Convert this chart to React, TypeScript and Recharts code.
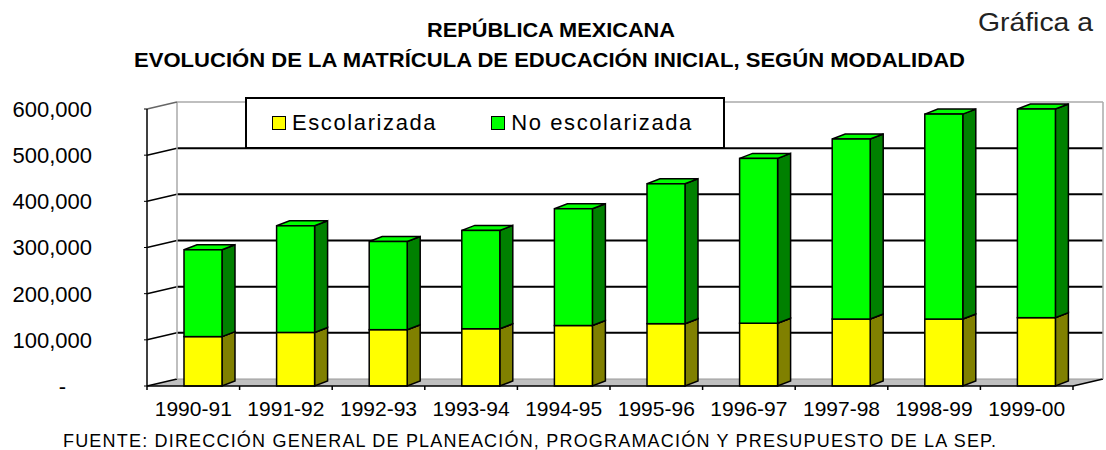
import { Bar, BarChart, CartesianGrid, Customized, Legend, XAxis, YAxis } from "recharts";

const categories = ["1990-91", "1991-92", "1992-93", "1993-94", "1994-95", "1995-96", "1996-97", "1997-98", "1998-99", "1999-00"];
const escolarizada = [107000, 116000, 122000, 124000, 131000, 135000, 136000, 145000, 145000, 148000];
const noEscolarizada = [188000, 231000, 191000, 213000, 253000, 303000, 357000, 390000, 444000, 452000];
const yTicks = [0, 100000, 200000, 300000, 400000, 500000, 600000];

const data = categories.map((c, i) => ({
  year: c,
  esc: escolarizada[i],
  noEsc: noEscolarizada[i],
}));

const W = 1106;
const H = 450;
const MARGIN = { top: 109, right: 33, bottom: 0, left: 0 };
const Y_AXIS_W = 147;
const X_AXIS_H = 64;
const PLOT_TOP = MARGIN.top;
const PLOT_BOTTOM = H - X_AXIS_H;

// depth of the back wall and of the bars
const DX = 30;
const DY = 7;
const BDX = 13;
const BDY = 5;
const BAR_SHIFT = 10;

const FONT = "'Liberation Sans', Arial, sans-serif";

function gridLine(p: any) {
  const { x1, x2, y1: y } = p;
  const isTop = Math.abs(y - PLOT_TOP) < 1;
  const isBottom = Math.abs(y - PLOT_BOTTOM) < 1;
  if (isBottom) {
    return (
      <g key={p.key}>
        <polygon
          points={`${x1},${y} ${x2},${y} ${x2 + DX},${y - DY} ${x1 + DX},${y - DY}`}
          fill="#c0c0c0"
          stroke="none"
        />
        <line x1={x1 + DX} y1={y - DY} x2={x2 + DX} y2={y - DY} stroke="#999" strokeWidth={1} />
        <line x1={x1} y1={y} x2={x1 + DX} y2={y - DY} stroke="#000" strokeWidth={1.5} />
        <line x1={x2} y1={y} x2={x2 + DX} y2={y - DY} stroke="#000" strokeWidth={1.5} />
      </g>
    );
  }
  return (
    <g key={p.key}>
      {isTop && (
        <>
          <line x1={x1 + DX} y1={y - DY} x2={x1 + DX} y2={PLOT_BOTTOM - DY} stroke="#aaa" strokeWidth={1.5} />
          <line x1={x2 + DX} y1={y - DY} x2={x2 + DX} y2={PLOT_BOTTOM - DY} stroke="#aaa" strokeWidth={1.5} />
        </>
      )}
      <line
        x1={x1 + DX}
        y1={y - DY}
        x2={x2 + DX}
        y2={y - DY}
        stroke={isTop ? "#aaa" : "#000"}
        strokeWidth={isTop ? 1.5 : 2}
      />
      <line x1={x1} y1={y} x2={x1 + DX} y2={y - DY} stroke={isTop ? "#666" : "#000"} strokeWidth={1.5} />
    </g>
  );
}

function box3d(fill: string, side: string) {
  return (p: any) => {
    const { y, width: w, height: h } = p;
    if (h == null || h <= 0) return <g />;
    const x = p.x + BAR_SHIFT;
    return (
      <g>
        <polygon
          points={`${x + w},${y} ${x + w + BDX},${y - BDY} ${x + w + BDX},${y + h - BDY} ${x + w},${y + h}`}
          fill={side}
          stroke="#000"
          strokeWidth={1.5}
        />
        <polygon
          points={`${x},${y} ${x + BDX},${y - BDY} ${x + w + BDX},${y - BDY} ${x + w},${y}`}
          fill={fill}
          stroke="#000"
          strokeWidth={1.5}
        />
        <rect x={x} y={y} width={w} height={h} fill={fill} stroke="#000" strokeWidth={1.5} />
      </g>
    );
  };
}

function YTick(p: any) {
  const v = p.payload.value;
  if (v === 0) {
    return (
      <text x={p.x - 26} y={p.y} dy="0.36em" textAnchor="end" fontFamily={FONT} fontSize={22} fill="#000">
        -
      </text>
    );
  }
  return (
    <text x={p.x} y={p.y} dy="0.36em" textAnchor="end" fontFamily={FONT} fontSize={22} fill="#000">
      {v.toLocaleString("en-US")}
    </text>
  );
}

function XTick(p: any) {
  const half = typeof p.payload.offset === "number" && p.payload.offset > 0 ? p.payload.offset : 46.3;
  const last = p.index === categories.length - 1;
  return (
    <g>
      <line x1={p.x - half} y1={PLOT_BOTTOM} x2={p.x - half} y2={PLOT_BOTTOM + 4} stroke="#000" strokeWidth={1.5} />
      {last && (
        <line x1={p.x + half} y1={PLOT_BOTTOM} x2={p.x + half} y2={PLOT_BOTTOM + 4} stroke="#000" strokeWidth={1.5} />
      )}
      <text x={p.x} y={PLOT_BOTTOM + 30} textAnchor="middle" fontFamily={FONT} fontSize={21} fill="#000">
        {p.payload.value}
      </text>
    </g>
  );
}

function Titles() {
  return (
    <g fontFamily={FONT}>
      <text x={427} y={37} fontSize={21} fontWeight="bold" textLength={248} lengthAdjust="spacingAndGlyphs">
        REPÚBLICA MEXICANA
      </text>
      <text x={134} y={67} fontSize={21} fontWeight="bold" textLength={831} lengthAdjust="spacingAndGlyphs">
        EVOLUCIÓN DE LA MATRÍCULA DE EDUCACIÓN INICIAL, SEGÚN MODALIDAD
      </text>
      <text x={978} y={31} fontSize={25} fill="#222" textLength={115} lengthAdjust="spacingAndGlyphs">
        Gráfica a
      </text>
      <text x={63} y={447} fontSize={18} textLength={933} lengthAdjust="spacing">
        FUENTE: DIRECCIÓN GENERAL DE PLANEACIÓN, PROGRAMACIÓN Y PRESUPUESTO DE LA SEP.
      </text>
    </g>
  );
}

function LegendBox() {
  const sq = (c: string) => ({
    display: "inline-block",
    width: 12,
    height: 12,
    background: c,
    border: "1.5px solid #000",
    marginRight: 6,
  });
  return (
    <div
      style={{
        boxSizing: "border-box",
        width: 480,
        height: 52,
        border: "2px solid #000",
        background: "#fff",
        display: "flex",
        alignItems: "center",
        fontFamily: FONT,
        fontSize: 22,
        letterSpacing: 1.6,
        color: "#000",
      }}
    >
      <span style={{ marginLeft: 25, display: "flex", alignItems: "center" }}>
        <span style={sq("#ffff00")} />
        Escolarizada
      </span>
      <span style={{ marginLeft: 54, display: "flex", alignItems: "center" }}>
        <span style={sq("#00ff00")} />
        No escolarizada
      </span>
    </div>
  );
}

export default function App() {
  return (
    <div style={{ position: "fixed", left: 0, top: 0, width: W, height: H, background: "#fff" }}>
      <BarChart width={W} height={H} data={data} margin={MARGIN}>
        <CartesianGrid vertical={false} horizontal={gridLine} />
        <XAxis
          dataKey="year"
          height={X_AXIS_H}
          axisLine={{ stroke: "#000", strokeWidth: 1.5 }}
          tickLine={false}
          tickSize={0}
          tick={<XTick />}
          interval={0}
        />
        <YAxis
          width={Y_AXIS_W}
          domain={[0, 600000]}
          ticks={yTicks}
          axisLine={{ stroke: "#000", strokeWidth: 1.5 }}
          tickLine={{ stroke: "#000" }}
          tickSize={3}
          tickMargin={52}
          tick={<YTick />}
        />
        <Legend
          verticalAlign="middle"
          align="center"
          layout="horizontal"
          content={<LegendBox />}
          wrapperStyle={{ left: 245, top: 97, width: 480, height: 52 }}
        />
        <Bar
          dataKey="esc"
          name="Escolarizada"
          stackId="a"
          fill="#ffff00"
          barSize={38}
          shape={box3d("#ffff00", "#808000")}
          isAnimationActive={false}
        />
        <Bar
          dataKey="noEsc"
          name="No escolarizada"
          stackId="a"
          fill="#00ff00"
          barSize={38}
          shape={box3d("#00ff00", "#008000")}
          isAnimationActive={false}
        />
        <Customized component={Titles} />
      </BarChart>
    </div>
  );
}
